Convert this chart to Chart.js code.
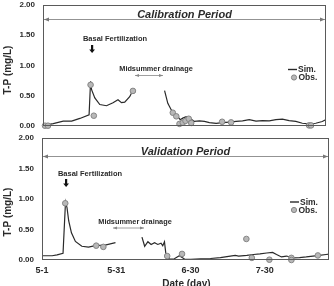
<!DOCTYPE html>
<html>
<head>
<meta charset="utf-8">
<script src="https://cdn.jsdelivr.net/npm/chart.js@4.4.1/dist/chart.umd.min.js"></script>
<style>
  html, body { margin: 0; padding: 0; background: #fff; }
  #wrap { position: relative; width: 334px; height: 286px; overflow: hidden; }
  .box { position: absolute; left: 0; width: 334px; }
</style>
</head>
<body>
<div id="wrap">
  <div class="box" style="top:0;height:132px"><canvas id="calChart" width="334" height="132"></canvas></div>
  <div class="box" style="top:132px;height:154px"><canvas id="valChart" width="334" height="154"></canvas></div>
</div>
<script>
// --- data (day counted from 5-1) ---
const tickDays = [0, 30, 60, 90];
const tickLabels = ['5-1', '5-31', '6-30', '7-30'];
const yTicks = [0, 0.5, 1, 1.5, 2];

// calibration period
const simDaysCal = [0.4, 4.1, 8.1, 11.5, 14.8, 18.5, 19.1, 19.5, 20.8, 22.8, 25.5, 28.1, 30.1, 31.5, 32.8, 34.8, 35.9, 42,
  48.8, 50.1, 51.5, 53.5, 55.1, 56.1, 57.5, 58.8, 60.8, 62.8, 64.8, 66.8, 69.5, 72.1, 74.8, 77.5, 80.1, 82.8, 85.5, 88.1,
  90.8, 93.5, 96.1, 98.8, 101.5, 104.1, 106.8, 109.5, 112.1, 113.6];
const simCal = [0.01, 0.04, 0.08, 0.08, 0.125, 0.185, 0.74, 0.6, 0.465, 0.355, 0.335, 0.385, 0.435, 0.385, 0.395, 0.485, 0.575, null,
  0.585, 0.375, 0.265, 0.185, 0.105, 0.13, 0.155, 0.13, 0.075, 0.085, 0.075, 0.055, 0.045, 0.055, 0.065, 0.075, 0.085, 0.105, 0.08, 0.09,
  0.085, 0.105, 0.115, 0.09, 0.075, 0.045, 0.035, 0.045, 0.075, 0.105];
const obsDaysCal = [0.8, 2.0, 19.1, 20.4, 36.1, 52.1, 53.5, 54.8, 56.1, 57.2, 58.5, 59.5, 71.9, 75.5, 106.8, 107.6];
const obsCal = [0.005, 0.005, 0.68, 0.17, 0.58, 0.22, 0.16, 0.035, 0.055, 0.085, 0.12, 0.05, 0.07, 0.06, 0.01, 0.01];

// validation period
const simDaysVal = [0, 4.1, 6.1, 8.5, 9.5, 10.1, 10.8, 11.9, 13.5, 16.1, 18.8, 21.5, 25.5, 29.7, 35, 40.4, 41.5, 42.8, 44.1, 45.5,
  46.8, 48.1, 48.8, 49.5, 50.1, 51.5, 53.5, 55.5, 56.8, 57.7, 60.1, 64.1, 68.1, 72.1, 76.1, 78.1, 79.5, 82.8, 85.5, 88.1,
  90.8, 93.2, 94.8, 96.8, 98.8, 101.5, 104.1, 106.8, 109.5, 112.1, 114.8, 116];
const simVal = [0.07, 0.07, 0.085, 0.11, 0.95, 0.86, 0.64, 0.445, 0.305, 0.225, 0.21, 0.235, 0.245, 0.285, null, 0.375, 0.225, 0.3, 0.255, 0.285,
  0.255, 0.275, 0.235, 0.3, 0.09, 0.015, 0.02, 0.07, 0.035, 0.012, 0.012, 0.02, 0.025, 0.04, 0.065, 0.075, 0.065, 0.075, 0.09, 0.1,
  0.115, 0.125, 0.09, 0.05, 0.065, 0.035, 0.04, 0.05, 0.065, 0.075, 0.09, 0.095];
const obsDaysVal = [9.4, 21.9, 24.8, 50.6, 56.6, 82.6, 84.8, 91.9, 100.8, 100.8, 111.5];
const obsVal = [0.93, 0.235, 0.215, 0.065, 0.1, 0.345, 0.035, 0.005, 0.035, 0.0, 0.075];

const FONT = '"Liberation Sans", Arial, sans-serif';
const INK = '#2a2a2a';

function pairs(xs, ys) {
  return xs.map((x, i) => ({ x: x, y: ys[i] }));
}

// --- frame, period arrow, annotations, legend ---
function arrowHead(ctx, x, y, dir, len, half) {
  ctx.beginPath();
  ctx.moveTo(x, y);
  ctx.lineTo(x - dir * len, y - half);
  ctx.lineTo(x - dir * len, y + half);
  ctx.closePath();
  ctx.fill();
}

function hArrow(ctx, x1, x2, y, len, half) {
  ctx.beginPath();
  ctx.moveTo(x1, y);
  ctx.lineTo(x2, y);
  ctx.stroke();
  arrowHead(ctx, x1, y, -1, len, half);
  arrowHead(ctx, x2, y, 1, len, half);
}

const panelDeco = {
  id: 'panelDeco',
  afterDraw(chart, args, o) {
    const ctx = chart.ctx, a = chart.chartArea;
    ctx.save();
    // box round the plot
    ctx.strokeStyle = '#5a5a5a';
    ctx.lineWidth = 1;
    ctx.strokeRect(Math.round(a.left) + 0.5, Math.round(a.top) + 0.5,
      Math.round(a.right - a.left) - 1, Math.round(a.bottom - a.top) - 1);

    // period arrow across the top
    ctx.strokeStyle = '#777';
    ctx.fillStyle = '#777';
    ctx.lineWidth = 0.8;
    hArrow(ctx, a.left + 1, a.right - 1, a.top + o.periodOff + 0.5, 5, 2);
    ctx.fillStyle = INK;
    ctx.font = 'italic bold 11px ' + FONT;
    ctx.textAlign = 'center';
    ctx.textBaseline = 'alphabetic';
    ctx.fillText(o.title, (a.left + a.right) / 2, a.top + o.periodOff - 1.5);

    // basal fertilization
    ctx.font = 'bold 7.5px ' + FONT;
    ctx.textBaseline = 'middle';
    ctx.fillText('Basal Fertilization', o.basal[0], o.basal[1]);
    const ax = o.basalArrow[0], ay1 = o.basalArrow[1], ay2 = o.basalArrow[2];
    ctx.fillStyle = '#111';
    ctx.fillRect(ax - 1, ay1, 2.2, ay2 - ay1 - 3);
    ctx.beginPath();
    ctx.moveTo(ax - 2.8, ay2 - 3.5);
    ctx.lineTo(ax + 3.0, ay2 - 3.5);
    ctx.lineTo(ax + 0.1, ay2);
    ctx.closePath();
    ctx.fill();

    // midsummer drainage
    ctx.fillStyle = INK;
    ctx.font = 'bold 7.3px ' + FONT;
    ctx.fillText('Midsummer drainage', o.mid[0], o.mid[1]);
    ctx.strokeStyle = '#888';
    ctx.fillStyle = '#888';
    ctx.lineWidth = 0.8;
    hArrow(ctx, o.midArrow[0], o.midArrow[1], o.midArrow[2], 4, 1.6);

    // legend
    const lg = o.legend;
    ctx.strokeStyle = INK;
    ctx.lineWidth = 1.4;
    ctx.beginPath();
    ctx.moveTo(lg[0], lg[1]);
    ctx.lineTo(lg[0] + 9, lg[1]);
    ctx.stroke();
    ctx.fillStyle = INK;
    ctx.font = 'bold 8.5px ' + FONT;
    ctx.textAlign = 'left';
    ctx.fillText('Sim.', lg[0] + 10, lg[1] + 0.5);
    ctx.beginPath();
    ctx.arc(lg[2], lg[3], 2.6, 0, Math.PI * 2);
    ctx.fillStyle = '#b8b8b8';
    ctx.fill();
    ctx.strokeStyle = '#858585';
    ctx.lineWidth = 1;
    ctx.stroke();
    ctx.fillStyle = INK;
    ctx.fillText('Obs.', lg[2] + 4.5, lg[3] + 0.5);

    // axis titles
    ctx.font = 'bold 10px ' + FONT;
    ctx.textAlign = 'center';
    ctx.save();
    ctx.translate(8.5, o.yTitle);
    ctx.rotate(-Math.PI / 2);
    ctx.fillText('T-P (mg/L)', 0, 0);
    ctx.restore();
    if (o.xTitle) {
      ctx.textBaseline = 'alphabetic';
      ctx.fillText('Date (day)', (a.left + a.right) / 2 + 1, o.xTitle);
    }
    ctx.restore();
  }
};

function makePanel(canvasId, simDays, sim, obsDays, obs, cfg) {
  return new Chart(document.getElementById(canvasId), {
    type: 'line',
    data: {
      datasets: [
        {
          label: 'Sim.',
          data: pairs(simDays, sim),
          borderColor: INK,
          borderWidth: 1.2,
          pointRadius: 0,
          tension: 0,
          spanGaps: false,
          order: 2
        },
        {
          label: 'Obs.',
          data: pairs(obsDays, obs),
          showLine: false,
          pointRadius: 2.8,
          pointBackgroundColor: '#b8b8b8',
          pointBorderColor: '#858585',
          pointBorderWidth: 1,
          clip: 6,
          order: 1
        }
      ]
    },
    options: {
      responsive: false,
      devicePixelRatio: 1,
      animation: false,
      layout: { padding: { top: cfg.padTop, right: cfg.padRight, left: 0, bottom: 0 } },
      plugins: {
        legend: { display: false },
        tooltip: { enabled: false },
        panelDeco: cfg.deco
      },
      scales: {
        x: {
          type: 'linear',
          min: 0,
          max: cfg.xMax,
          grid: { display: false, drawTicks: false },
          border: { display: false },
          afterBuildTicks: s => { s.ticks = tickDays.map(v => ({ value: v })); },
          afterFit: s => { s.height = cfg.xHeight; s.paddingLeft = 0; s.paddingRight = 0; },
          ticks: {
            display: cfg.showX,
            padding: 5,
            maxRotation: 0,
            autoSkip: false,
            color: INK,
            font: { family: FONT, size: 9, weight: 'bold' },
            callback: v => tickLabels[tickDays.indexOf(v)]
          }
        },
        y: {
          min: 0,
          max: 2,
          grid: { display: false, drawTicks: false },
          border: { display: false },
          afterBuildTicks: s => { s.ticks = yTicks.map(v => ({ value: v })); },
          afterFit: s => { s.width = cfg.left; s.paddingTop = 0; s.paddingBottom = 0; },
          ticks: {
            padding: 8,
            color: INK,
            font: { family: FONT, size: 8, weight: 'bold' },
            callback: v => Number(v).toFixed(2)
          }
        }
      }
    },
    plugins: [panelDeco]
  });
}

makePanel('calChart', simDaysCal, simCal, obsDaysCal, obsCal, {
  xMax: 113.6, padTop: 5, padRight: 8, xHeight: 6, showX: false, left: 43,
  deco: {
    title: 'Calibration Period', periodOff: 14,
    basal: [115, 39], basalArrow: [92, 45, 53],
    mid: [156, 68.5], midArrow: [135, 163, 75.5],
    legend: [288, 69.5, 294, 77.5],
    yTitle: 70, xTitle: null
  }
});

makePanel('valChart', simDaysVal, simVal, obsDaysVal, obsVal, {
  xMax: 116, padTop: 6, padRight: 3, xHeight: 26, showX: true, left: 42,
  deco: {
    title: 'Validation Period', periodOff: 18,
    basal: [90, 42], basalArrow: [66, 47, 55],
    mid: [135, 90], midArrow: [113, 144, 96],
    legend: [290, 70, 294, 78],
    yTitle: 80, xTitle: 155
  }
});
</script>
</body>
</html>
